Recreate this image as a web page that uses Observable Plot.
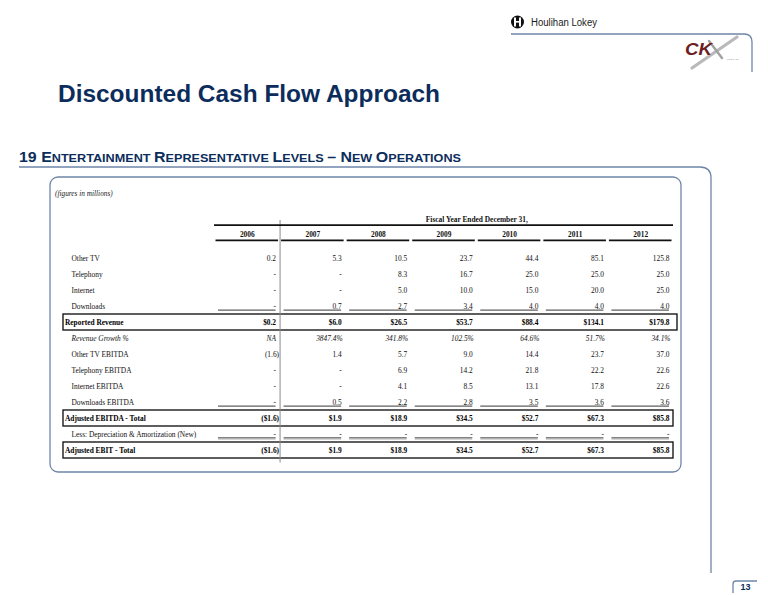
<!DOCTYPE html>
<html><head><meta charset="utf-8">
<script src="https://cdn.jsdelivr.net/npm/d3@7"></script>
<script src="https://cdn.jsdelivr.net/npm/@observablehq/plot@0.6"></script>
<style>
html,body{margin:0;padding:0;background:#fff;overflow:hidden}
#page{position:relative;width:768px;height:595px}
#page svg{position:absolute;left:0;top:0}
</style></head><body><div id="page"></div>
<script>
// ---- data ----
const years = ["2006","2007","2008","2009","2010","2011","2012"];
const fiscalHeader = "Fiscal Year Ended December 31,";
const otherTV          = [0.2, 5.3, 10.5, 23.7, 44.4, 85.1, 125.8];
const telephony        = [0, 0, 8.3, 16.7, 25.0, 25.0, 25.0];
const internet         = [0, 0, 5.0, 10.0, 15.0, 20.0, 25.0];
const downloads        = [0, 0.7, 2.7, 3.4, 4.0, 4.0, 4.0];
const reportedRevenue  = [0.2, 6.0, 26.5, 53.7, 88.4, 134.1, 179.8];
const revenueGrowth    = [null, 3847.4, 341.8, 102.5, 64.6, 51.7, 34.1];
const otherTVEBITDA    = [-1.6, 1.4, 5.7, 9.0, 14.4, 23.7, 37.0];
const telephonyEBITDA  = [0, 0, 6.9, 14.2, 21.8, 22.2, 22.6];
const internetEBITDA   = [0, 0, 4.1, 8.5, 13.1, 17.8, 22.6];
const downloadsEBITDA  = [0, 0.5, 2.2, 2.8, 3.5, 3.6, 3.6];
const adjustedEBITDA   = [-1.6, 1.9, 18.9, 34.5, 52.7, 67.3, 85.8];
const lessDA           = [0, 0, 0, 0, 0, 0, 0];
const adjustedEBIT     = [-1.6, 1.9, 18.9, 34.5, 52.7, 67.3, 85.8];

const rows = [
  {label: "Other TV", values: otherTV, kind: "plain"},
  {label: "Telephony", values: telephony, kind: "plain"},
  {label: "Internet", values: internet, kind: "plain"},
  {label: "Downloads", values: downloads, kind: "plain", underline: "single"},
  {label: "Reported Revenue", values: reportedRevenue, kind: "total", dollar: true},
  {label: "Revenue Growth %", values: revenueGrowth, kind: "pct"},
  {label: "Other TV EBITDA", values: otherTVEBITDA, kind: "plain"},
  {label: "Telephony EBITDA", values: telephonyEBITDA, kind: "plain"},
  {label: "Internet EBITDA", values: internetEBITDA, kind: "plain"},
  {label: "Downloads EBITDA", values: downloadsEBITDA, kind: "plain", underline: "single"},
  {label: "Adjusted EBITDA - Total", values: adjustedEBITDA, kind: "total", dollar: true},
  {label: "Less: Depreciation & Amortization (New)", values: lessDA, kind: "plain", underline: "double"},
  {label: "Adjusted EBIT - Total", values: adjustedEBIT, kind: "total", dollar: true}
];
const rowLabels = rows.map(r => r.label);

function fmt(v, r) {
  if (v == null) return {text: "NA", hang: "none"};
  if (r.kind === "pct") return {text: v.toFixed(1) + "%", hang: "pct"};
  if (v === 0) return {text: "-", hang: "none"};
  const s = (r.dollar ? "$" : "") + Math.abs(v).toFixed(1);
  return v < 0 ? {text: "(" + s + ")", hang: "paren"} : {text: s, hang: "none"};
}
const cells = rows.flatMap(r => r.values.map((v, i) => ({row: r.label, col: i, kind: r.kind, underline: r.underline, ...fmt(v, r)})));

// ---- table ----
const FONT = "'Liberation Serif', 'Times New Roman', serif";
const FS = 7.4;
function valueMarks(cs, style) {
  return [["none", -4], ["pct", -3], ["paren", -1]].map(([h, dx]) =>
    Plot.text(cs.filter(c => c.hang === h), {x: c => c.col + 1, y: "row", text: "text", textAnchor: "end", dx, fill: "#111", fontSize: FS, ...style}));
}
const first = () => rowLabels[0];

const plot = Plot.plot({
  width: 768, height: 595,
  marginLeft: 214, marginRight: 95, marginTop: 245, marginBottom: 132.5,
  x: {type: "linear", domain: [0, years.length], axis: null},
  y: {type: "band", domain: rowLabels, padding: 0, axis: null},
  style: {background: "transparent", fontFamily: FONT, fontSize: FS + "px"},
  marks: [
    // boxed total rows
    Plot.barX(rows.filter(r => r.label === "Reported Revenue"), {x1: () => 0, x2: () => years.length, y: "label", fill: "none", stroke: "#1a1a1a", strokeWidth: 1.4, insetLeft: -151, insetRight: -4}),
    Plot.barX(rows.filter(r => r.kind === "total" && r.label !== "Reported Revenue"), {x1: () => 0, x2: () => years.length, y: "label", fill: "none", stroke: "#1a1a1a", strokeWidth: 1.4, insetLeft: -151}),
    // actual / projected separator
    Plot.ruleX([1], {stroke: "#8a8a8a", strokeWidth: 1, insetTop: -25}),
    // fiscal year header + rule
    Plot.text([fiscalHeader], {x: () => (1 + years.length) / 2, text: d => d, frameAnchor: "top", dy: -29, fontWeight: "bold", fill: "#111", fontSize: FS}),
    Plot.ruleY([fiscalHeader], {y: first, x1: () => 0, x2: () => years.length, dy: -33.4, stroke: "#111", strokeWidth: 1.8}),
    // year headers + underline segments
    Plot.text(years, {x: (d, i) => i + 0.5, text: d => d, frameAnchor: "top", dy: -14, fontWeight: "bold", fill: "#111", fontSize: FS}),
    Plot.ruleY(years, {y: first, x1: (d, i) => i, x2: (d, i) => i + 1, dy: -18.1, insetLeft: 1.5, insetRight: 1.5, stroke: "#111", strokeWidth: 1.8}),
    // cell underlines
    Plot.ruleY(cells.filter(c => c.underline === "single"), {y: "row", x1: "col", x2: c => c.col + 1, dy: 3.6, insetLeft: 4, insetRight: 4, stroke: "#222", strokeWidth: 0.9}),
    Plot.ruleY(cells.filter(c => c.underline === "double"), {y: "row", x1: "col", x2: c => c.col + 1, dy: 3.2, insetLeft: 4, insetRight: 4, stroke: "#555", strokeWidth: 0.9}),
    Plot.ruleY(cells.filter(c => c.underline === "double"), {y: "row", x1: "col", x2: c => c.col + 1, dy: 4.4, insetLeft: 4, insetRight: 4, stroke: "#888", strokeWidth: 0.9}),
    // row labels
    Plot.text(rows.filter(r => r.kind === "plain"), {y: "label", text: "label", frameAnchor: "left", textAnchor: "start", dx: -143, fill: "#111", fontSize: FS}),
    Plot.text(rows.filter(r => r.kind === "pct"), {y: "label", text: "label", frameAnchor: "left", textAnchor: "start", dx: -143, fill: "#111", fontSize: FS, fontStyle: "italic"}),
    Plot.text(rows.filter(r => r.kind === "total"), {y: "label", text: "label", frameAnchor: "left", textAnchor: "start", dx: -149.5, fill: "#000", fontSize: FS, fontWeight: "bold"}),
    // values
    ...valueMarks(cells.filter(c => c.kind === "plain"), {}),
    ...valueMarks(cells.filter(c => c.kind === "pct"), {fontStyle: "italic"}),
    ...valueMarks(cells.filter(c => c.kind === "total"), {fontWeight: "bold", fill: "#000"})
  ]
});
document.getElementById("page").appendChild(plot);

// ---- page chrome ----
const blue = "#6f86a8", navy = "#0c2d5c";
const chrome = d3.select("#page").append("svg").attr("width", 768).attr("height", 595).style("pointer-events", "none");
const line = d => chrome.append("path").attr("d", d).attr("fill", "none").attr("stroke", blue).attr("stroke-width", 1.3);
line("M511,34 H744 Q752,34 752,42 V72");
line("M19,167 H700 Q711,167 711,178 V573");
line("M733,593 V584 Q733,581 736,581 H757");
chrome.append("rect").attr("x", 50).attr("y", 177).attr("width", 631).attr("height", 295).attr("rx", 8)
  .attr("fill", "none").attr("stroke", blue).attr("stroke-width", 1.3);

// Houlihan Lokey logo
chrome.append("circle").attr("cx", 517.5).attr("cy", 22).attr("r", 6.5).attr("fill", "#111");
chrome.append("rect").attr("x", 514).attr("y", 17.5).attr("width", 2).attr("height", 9).attr("fill", "#fff");
chrome.append("rect").attr("x", 519).attr("y", 17.5).attr("width", 2).attr("height", 9).attr("fill", "#fff");
chrome.append("rect").attr("x", 515).attr("y", 21).attr("width", 5).attr("height", 1.6).attr("fill", "#fff");
chrome.append("text").attr("x", 531).attr("y", 25.5).attr("font-family", "'Liberation Sans', Arial, sans-serif")
  .attr("font-size", 10).attr("fill", "#1a1a1a").attr("textLength", 66).attr("lengthAdjust", "spacingAndGlyphs").text("Houlihan Lokey");

// CKX logo
chrome.append("path").attr("d", "M692,68 L737,37").attr("stroke", "#b9b9b9").attr("stroke-width", 3.2).attr("stroke-linecap", "round");
chrome.append("path").attr("d", "M709,41 L722,58").attr("stroke", "#a0a0a0").attr("stroke-width", 2.4).attr("stroke-linecap", "round");
chrome.append("text").attr("x", 685).attr("y", 55).attr("font-family", "'Liberation Sans', Arial, sans-serif")
  .attr("font-size", 17).attr("font-weight", "bold").attr("font-style", "italic").attr("fill", "#6b1d22")
  .attr("textLength", 27).attr("lengthAdjust", "spacingAndGlyphs").text("CK");
chrome.append("text").attr("x", 727).attr("y", 60).attr("font-family", "'Liberation Sans', Arial, sans-serif")
  .attr("font-size", 2.5).attr("fill", "#888").text("Media, Inc.");

// Title
chrome.append("text").attr("x", 58).attr("y", 101.5).attr("font-family", "'Liberation Sans', Arial, sans-serif")
  .attr("font-size", 23).attr("font-weight", "bold").attr("fill", navy)
  .attr("textLength", 382).attr("lengthAdjust", "spacingAndGlyphs").text("Discounted Cash Flow Approach");

// Section heading (small caps)
const heading = [["19 ", 1], ["E", 1], ["NTERTAINMENT ", 0], ["R", 1], ["EPRESENTATIVE ", 0], ["L", 1], ["EVELS ", 0], ["– ", 1], ["N", 1], ["EW ", 0], ["O", 1], ["PERATIONS", 0]];
const ht = chrome.append("text").attr("x", 19).attr("y", 162).attr("font-family", "'Liberation Sans', Arial, sans-serif")
  .attr("font-weight", "bold").attr("fill", navy).attr("textLength", 442).attr("lengthAdjust", "spacingAndGlyphs");
heading.forEach(([t, big]) => ht.append("tspan").attr("font-size", big ? 14.5 : 11.5).text(t));

// figures note and page number
chrome.append("text").attr("x", 55).attr("y", 195.5).attr("font-family", FONT).attr("font-size", 7.3)
  .attr("font-style", "italic").attr("fill", "#222").text("(figures in millions)");
chrome.append("text").attr("x", 745.5).attr("y", 589.5).attr("text-anchor", "middle").attr("font-family", "'Liberation Sans', Arial, sans-serif")
  .attr("font-size", 9).attr("font-weight", "bold").attr("fill", navy).text("13");
</script></body></html>
